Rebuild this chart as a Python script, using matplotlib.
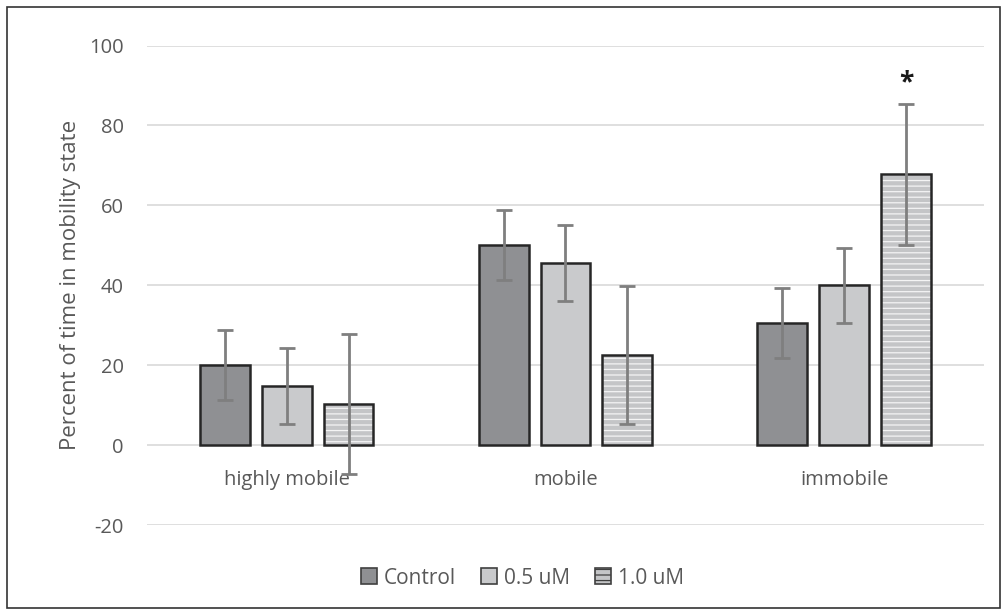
import numpy as np
import matplotlib
matplotlib.use('Agg')
import matplotlib.pyplot as plt
from matplotlib.patches import Rectangle, Patch

plt.rcParams['font.family'] = ['Open Sans', 'DejaVu Sans']
plt.rcParams['axes.unicode_minus'] = False
plt.rcParams['hatch.linewidth'] = 0.9

categories = ['highly mobile', 'mobile', 'immobile']
series = ['Control', '0.5 uM', '1.0 uM']
means = {
    'Control': [20.0, 50.0, 30.5],
    '0.5 uM': [14.75, 45.5, 40.0],
    '1.0 uM': [10.25, 22.5, 67.75],
}
errors = {
    'Control': [8.75, 8.75, 8.75],
    '0.5 uM': [9.5, 9.5, 9.4],
    '1.0 uM': [17.5, 17.3, 17.6],
}
yticks = [-20, 0, 20, 40, 60, 80, 100]

faces = {'Control': '#8f9093', '0.5 uM': '#c9cacc', '1.0 uM': '#c4c5c7'}
text_col = '#595959'

fig = plt.figure(figsize=(10.08, 6.15), dpi=100)
ax = fig.add_axes([0.146, 0.146, 0.830, 0.780])

x = np.arange(len(categories))
width = 0.179
step = 0.222

for i, s in enumerate(series):
    pos = x + (i - 1) * step
    if s == '1.0 uM':
        # striped fill, then outline drawn separately
        ax.bar(pos, means[s], width, color=faces[s], hatch='---',
               edgecolor='#f4f4f4', linewidth=0, zorder=2)
        ax.bar(pos, means[s], width, facecolor='none',
               edgecolor='#262626', linewidth=1.8, zorder=3)
    else:
        ax.bar(pos, means[s], width, color=faces[s],
               edgecolor='#262626', linewidth=1.8, zorder=3)
    ax.errorbar(pos, means[s], yerr=errors[s], fmt='none', ecolor='#7f7f7f',
                elinewidth=2, capsize=6, capthick=2, zorder=4)

# significance marker
ax.text(x[2] + step, means['1.0 uM'][2] + errors['1.0 uM'][2] + 2.0, '*',
        ha='center', va='bottom', fontsize=19, fontweight='bold',
        color='#1a1a1a', zorder=5)

for xi, c in zip(x, categories):
    ax.text(xi, -8.8, c, ha='center', va='center', fontsize=14.5, color=text_col)

ax.set_xlim(-0.5, 2.5)
ax.set_ylim(-20, 100)
ax.set_yticks(yticks)
ax.set_xticks([])
ax.tick_params(axis='y', length=0, pad=17, labelsize=14.5, labelcolor=text_col)
ax.yaxis.grid(True, color='#d9d9d9', linewidth=1.2, zorder=0)
ax.set_axisbelow(True)
for sp in ax.spines.values():
    sp.set_visible(False)
ax.set_ylabel('Percent of time in mobility state', fontsize=16, color=text_col, labelpad=6)

handles = [Patch(facecolor=faces['Control'], edgecolor='#404040', linewidth=1.2),
           Patch(facecolor=faces['0.5 uM'], edgecolor='#404040', linewidth=1.2),
           Patch(facecolor=faces['1.0 uM'], edgecolor='#404040', linewidth=1.2, hatch='---')]
leg = fig.legend(handles, series, loc='center', bbox_to_anchor=(0.518, 0.06), ncol=3,
                 frameon=False, fontsize=15, handlelength=0.8, handleheight=0.8,
                 handletextpad=0.3, columnspacing=1.2)
for t in leg.get_texts():
    t.set_color(text_col)

fig.patches.append(Rectangle((7 / 1008, 7 / 615), 993 / 1008, 601 / 615,
                             transform=fig.transFigure, fill=False,
                             edgecolor='#333333', linewidth=1.2))

fig.savefig('out.png', dpi=100)
